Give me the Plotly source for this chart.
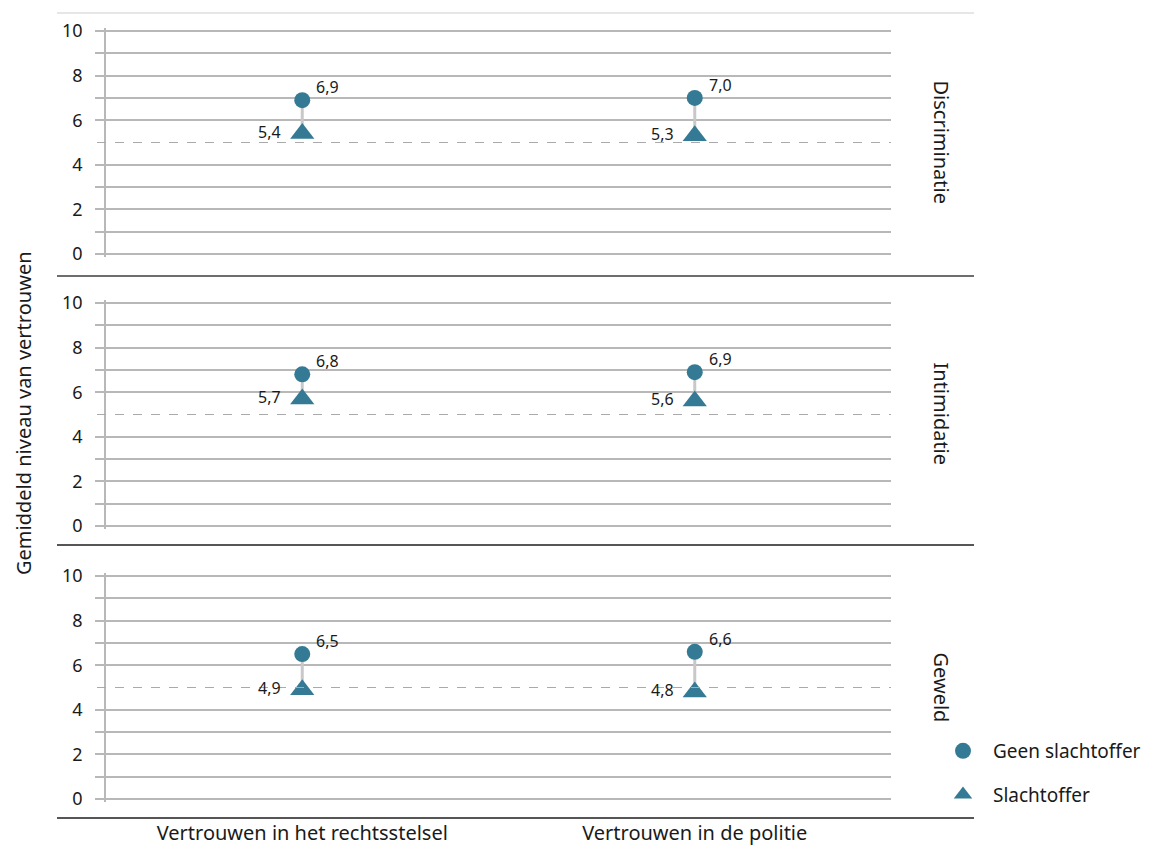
import plotly.graph_objects as go
from plotly.subplots import make_subplots

# data
categories = ["Vertrouwen in het rechtsstelsel", "Vertrouwen in de politie"]
panels = ["Discriminatie", "Intimidatie", "Geweld"]
geen_slachtoffer = [[6.9, 7.0], [6.8, 6.9], [6.5, 6.6]]
slachtoffer = [[5.4, 5.3], [5.7, 5.6], [4.9, 4.8]]
series_names = ["Geen slachtoffer", "Slachtoffer"]
y_tickvals = [0, 1, 2, 3, 4, 6, 7, 8, 9, 10]
y_ticktext = ["0", "", "2", "", "4", "6", "", "8", "", "10"]
ref_value = 5

W, H = 1154, 845
OFF = 8  # page body margin
TEAL = "rgb(52,122,148)"
GRID = "rgb(184,184,184)"
INK = "#1a1a1a"
FONT = "Noto Sans"

def fmt(v):
    return f"{v:.1f}".replace(".", ",")

def px(x):
    return (x - OFF) / W

def py(y):
    return 1 - (y - OFF) / H

fig = make_subplots(rows=3, cols=1, shared_xaxes=True)

# pixel layout of the panels (top, bottom of plot area)
panel_px = [(31, 254), (303, 526), (576, 799)]
x_px = (106, 891)
pad = 0.12  # a little room so edge gridlines are drawn

for r in range(3):
    hi = geen_slachtoffer[r]
    lo = slachtoffer[r]
    ax = "" if r == 0 else str(r + 1)
    for c, cat in enumerate(categories):
        fig.add_trace(go.Scatter(
            x=[cat, cat], y=[lo[c], hi[c]], mode="lines",
            line=dict(color="rgb(200,200,200)", width=3),
            hoverinfo="skip", showlegend=False), row=r + 1, col=1)
        # value labels
        fig.add_annotation(x=cat, y=hi[c], xref="x" + ax, yref="y" + ax,
                           text=fmt(hi[c]), showarrow=False,
                           xanchor="left", yanchor="middle", xshift=12, yshift=13,
                           font=dict(size=16, color=INK))
        fig.add_annotation(x=cat, y=lo[c], xref="x" + ax, yref="y" + ax,
                           text=fmt(lo[c]), showarrow=False,
                           xanchor="right", yanchor="middle", xshift=-19, yshift=2,
                           font=dict(size=16, color=INK))
    fig.add_trace(go.Scatter(
        x=categories, y=lo, mode="markers",
        marker=dict(symbol="triangle-up", size=21, color=TEAL),
        name=series_names[1], showlegend=False), row=r + 1, col=1)
    fig.add_trace(go.Scatter(
        x=categories, y=hi, mode="markers",
        marker=dict(symbol="circle", size=16, color=TEAL),
        name=series_names[0], showlegend=False), row=r + 1, col=1)

# legend entries
fig.add_trace(go.Scatter(x=[None], y=[None], mode="markers",
                         marker=dict(symbol="circle", size=20, color=TEAL),
                         name=series_names[0], legendgroup="g"), row=3, col=1)
fig.add_trace(go.Scatter(x=[None], y=[None], mode="markers",
                         marker=dict(symbol="triangle-up", size=20, color=TEAL),
                         name=series_names[1], legendgroup="s"), row=3, col=1)

for r, (top, bot) in enumerate(panel_px):
    ax = "" if r == 0 else str(r + 1)
    span = bot - top
    fig.layout["yaxis" + ax].update(
        domain=[py(bot + span * pad / 10), py(top - span * pad / 10)],
        range=[-pad, 10 + pad],
        tickvals=y_tickvals, ticktext=y_ticktext,
        showgrid=True, gridcolor=GRID, gridwidth=1.5, zeroline=False,
        showline=True, linecolor=GRID, linewidth=1.5,
        ticks="outside", ticklen=9, tickcolor=GRID, tickwidth=1.5,
        tickfont=dict(size=18, color=INK), ticklabelstandoff=9,
        automargin=False)
    fig.layout["xaxis" + ax].update(
        domain=[px(x_px[0]), px(x_px[1])], range=[-0.5, 1.5],
        type="category", categoryarray=categories,
        showgrid=False, zeroline=False, showline=False,
        showticklabels=(r == 2), ticks="",
        tickfont=dict(size=20, color=INK), ticklabelstandoff=17,
        automargin=False)
    fig.add_shape(type="line", xref="paper", yref="y" + ax,
                  x0=px(97), x1=px(x_px[1]), y0=ref_value, y1=ref_value,
                  line=dict(color="rgb(170,170,170)", width=1.2, dash="dash"))
    fig.add_annotation(text=panels[r], xref="paper", yref="paper",
                       x=px(941), y=py((top + bot) / 2), textangle=90,
                       xanchor="center", yanchor="middle",
                       showarrow=False, font=dict(size=20, color=INK))

# separator lines
for y, col, wd in [(13, "rgb(205,205,205)", 1), (276, "rgb(60,60,60)", 1.5),
                   (545, "rgb(30,30,30)", 1.5), (818, "rgb(30,30,30)", 1.5)]:
    fig.add_shape(type="line", xref="paper", yref="paper",
                  x0=px(57), x1=px(974), y0=py(y), y1=py(y),
                  line=dict(color=col, width=wd))

fig.add_annotation(text="Gemiddeld niveau van vertrouwen", xref="paper", yref="paper",
                   x=px(23), y=py(413), textangle=-90, showarrow=False,
                   xanchor="center", yanchor="middle", borderpad=0,
                   font=dict(size=20, color=INK))

fig.update_layout(
    width=W, height=H,
    margin=dict(l=0, r=0, t=0, b=0),
    plot_bgcolor="white", paper_bgcolor="white",
    font=dict(family=FONT, color=INK),
    legend=dict(x=px(933), y=py(732), xanchor="left", yanchor="top",
                font=dict(size=19), tracegroupgap=16, itemwidth=50,
                bgcolor="rgba(0,0,0,0)"),
)

fig.write_html("out.html")
